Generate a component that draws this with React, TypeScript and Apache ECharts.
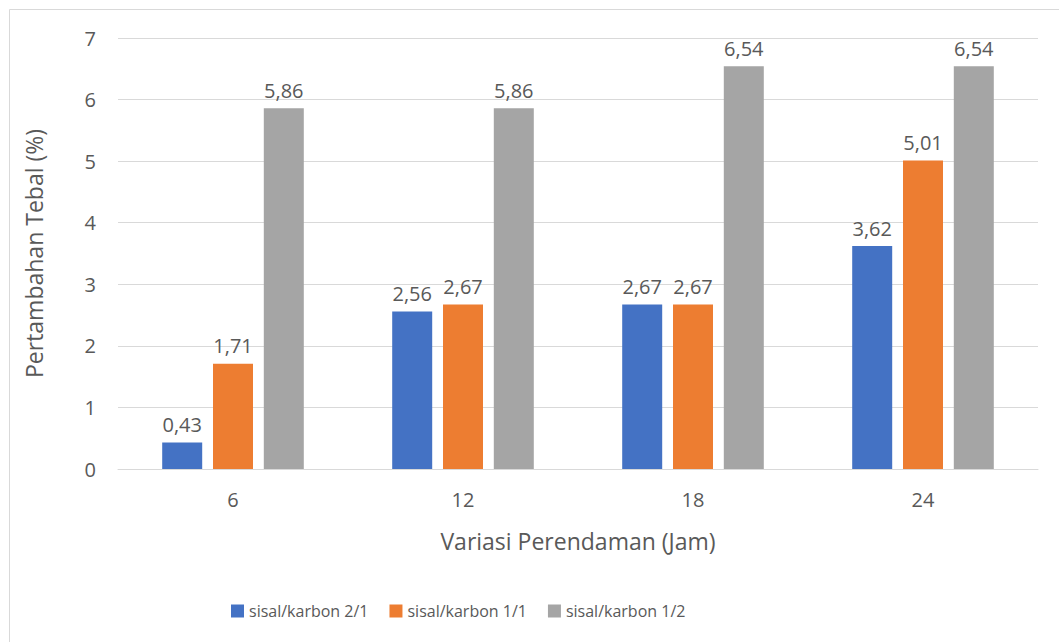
import React, { useEffect, useRef } from "react";
import * as echarts from "echarts";

const categories = ["6", "12", "18", "24"];
const seriesNames = ["sisal/karbon 2/1", "sisal/karbon 1/1", "sisal/karbon 1/2"];
const sisal21 = [0.43, 2.56, 2.67, 3.62];
const sisal11 = [1.71, 2.67, 2.67, 5.01];
const sisal12 = [5.86, 5.86, 6.54, 6.54];
const colors = ["#4472C4", "#ED7D31", "#A5A5A5"];

const FONT = "'Open Sans', 'Noto Sans', sans-serif";
const TEXT = "#595959";

export default function App() {
  const ref = useRef<HTMLDivElement>(null);
  useEffect(() => {
    if (!ref.current) return;
    const chart = echarts.init(ref.current, null, { renderer: "svg" });
    const data = [sisal21, sisal11, sisal12];
    chart.setOption({
      animation: false,
      backgroundColor: "#ffffff",
      textStyle: { fontFamily: FONT, color: TEXT },
      graphic: [
        {
          type: "rect",
          shape: { x: 9.5, y: 9.5, width: 1060, height: 640 },
          style: { fill: "none", stroke: "#d9d9d9", lineWidth: 1 },
          silent: true,
        },
      ],
      grid: { left: 118, right: 21, top: 38, bottom: 173 },
      legend: {
        data: seriesNames,
        top: 598,
        left: 226,
        itemWidth: 13,
        itemHeight: 13,
        itemGap: 21,
        icon: "rect",
        textStyle: { fontFamily: FONT, color: TEXT, fontSize: 16 },
      },
      xAxis: {
        type: "category",
        data: categories,
        name: "Variasi Perendaman (Jam)",
        nameLocation: "middle",
        nameGap: 60,
        nameTextStyle: { fontFamily: FONT, color: TEXT, fontSize: 23 },
        axisLine: { lineStyle: { color: "#d9d9d9", width: 1 } },
        axisTick: { show: false },
        axisLabel: { color: TEXT, fontSize: 20, margin: 20, fontFamily: FONT },
      },
      yAxis: {
        type: "value",
        min: 0,
        max: 7,
        interval: 1,
        name: "Pertambahan Tebal (%)",
        nameLocation: "middle",
        nameGap: 73,
        nameTextStyle: { fontFamily: FONT, color: TEXT, fontSize: 23 },
        axisLine: { show: false },
        axisTick: { show: false },
        axisLabel: { color: TEXT, fontSize: 20, margin: 22, fontFamily: FONT },
        splitLine: { lineStyle: { color: "#d9d9d9", width: 1 } },
      },
      series: seriesNames.map((name, i) => ({
        name,
        type: "bar",
        data: data[i],
        barWidth: 40,
        barGap: "27%",
        itemStyle: { color: colors[i] },
        label: {
          show: true,
          position: "top",
          distance: 8,
          color: TEXT,
          fontSize: 20,
          fontFamily: FONT,
          formatter: (p: any) => String(p.value.toFixed(2)).replace(".", ","),
        },
      })),
    });
    return () => chart.dispose();
  }, []);
  return (
    <div
      ref={ref}
      style={{ position: "fixed", left: 0, top: 0, width: 1059, height: 642 }}
    />
  );
}
